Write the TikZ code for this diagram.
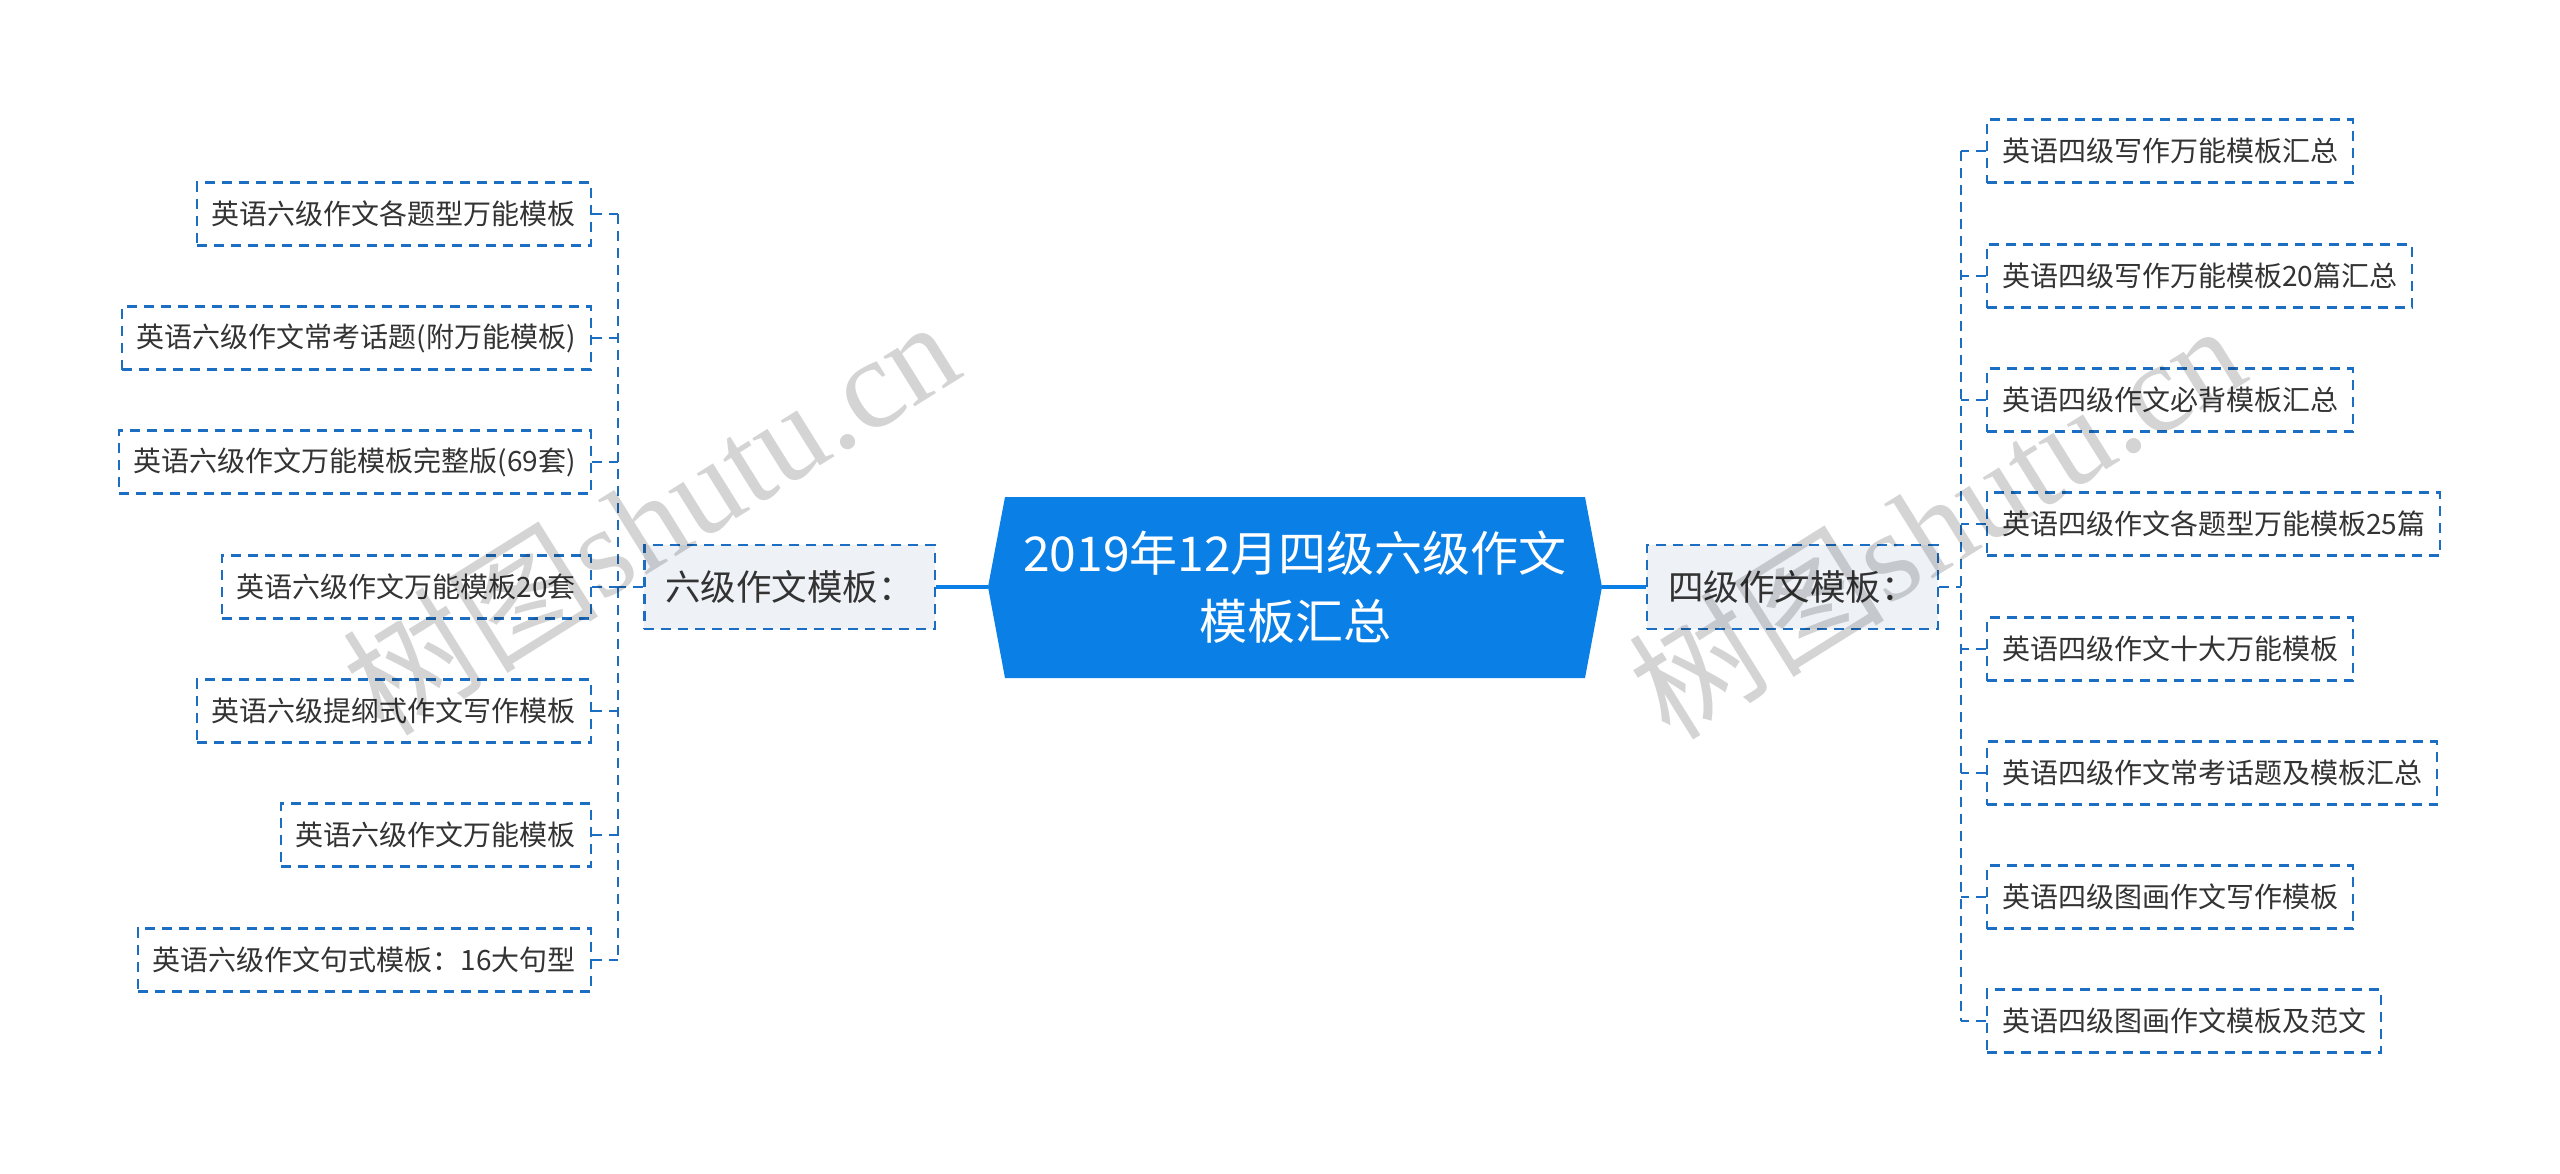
\documentclass[tikz,border=0pt]{standalone}
\usepackage{fontspec}
\setmainfont{Noto Sans CJK SC}
\newfontfamily\wmserif{Liberation Serif}
\newfontfamily\wmcjk{Noto Sans CJK SC}
\definecolor{rootblue}{HTML}{0A7FE6}
\definecolor{dashblue}{HTML}{1C6EC2}
\definecolor{lvfill}{HTML}{EEF1F6}
\definecolor{txtc}{HTML}{333333}
\begin{document}
\begin{tikzpicture}[x=1pt,y=-1pt,
  leaf/.style={draw=dashblue, line width=2.2pt, dash pattern=on 10pt off 7pt, fill=white,
    inner xsep=15pt, inner ysep=0pt, minimum height=63pt,
    font=\fontsize{28pt}{34pt}\selectfont, text=txtc},
  lvone/.style={leaf, fill=lvfill, inner xsep=21pt, minimum height=84pt,
    font=\fontsize{35.5pt}{42pt}\selectfont},
  dconn/.style={draw=dashblue, line width=2.2pt, dash pattern=on 10pt off 7pt},
  sconn/.style={draw=rootblue, line width=3.5pt},
  rootlabel/.style={font=\fontsize{48pt}{68pt}\selectfont, text=white, align=center},
  wmark/.style={rotate=32, text=black, opacity=0.17, font=\fontsize{128pt}{130pt}\selectfont}
]
\useasboundingbox (0,0) rectangle (2560,1173);

% root
\coordinate (rootW) at (988,587);
\coordinate (rootE) at (1602,587);
\fill[rootblue] (rootW) -- (1005,497) -- (1585,497) -- (rootE) -- (1585,678) -- (1005,678) -- cycle;
\node[rootlabel] (root) at (1295,587) {2019年12月四级六级作文\\模板汇总};

% level one
\node[lvone, anchor=east] (sixL) at (936,587) {六级作文模板：};
\node[lvone, anchor=west] (fourR) at (1646,587) {四级作文模板：};
\draw[sconn] (sixL.east) -- (rootW);
\draw[sconn] (rootE) -- (fourR.west);

% left leaves
\node[leaf, anchor=east] (L1) at (592,214) {英语六级作文各题型万能模板};
\node[leaf, anchor=east] (L2) at (592,338) {英语六级作文常考话题(附万能模板)};
\node[leaf, anchor=east] (L3) at (592,462) {英语六级作文万能模板完整版(69套)};
\node[leaf, anchor=east] (L4) at (592,587) {英语六级作文万能模板20套};
\node[leaf, anchor=east] (L5) at (592,711) {英语六级提纲式作文写作模板};
\node[leaf, anchor=east] (L6) at (592,835) {英语六级作文万能模板};
\node[leaf, anchor=east] (L7) at (592,960) {英语六级作文句式模板：16大句型};

% right leaves
\node[leaf, anchor=west] (R1) at (1986,151) {英语四级写作万能模板汇总};
\node[leaf, anchor=west] (R2) at (1986,276) {英语四级写作万能模板20篇汇总};
\node[leaf, anchor=west] (R3) at (1986,400) {英语四级作文必背模板汇总};
\node[leaf, anchor=west] (R4) at (1986,524) {英语四级作文各题型万能模板25篇};
\node[leaf, anchor=west] (R5) at (1986,649) {英语四级作文十大万能模板};
\node[leaf, anchor=west] (R6) at (1986,773) {英语四级作文常考话题及模板汇总};
\node[leaf, anchor=west] (R7) at (1986,897) {英语四级图画作文写作模板};
\node[leaf, anchor=west] (R8) at (1986,1021) {英语四级图画作文模板及范文};

% trunks
\coordinate (tL) at (618,587);
\coordinate (tR) at (1961,587);
\draw[dconn] (tL |- L1.east) -- (tL |- L7.east);
\draw[dconn] (tR |- R1.west) -- (tR |- R8.west);
\draw[dconn] (sixL.west) -- (tL);
\draw[dconn] (fourR.east) -- (tR);
\foreach \i in {1,...,7} {\draw[dconn] (L\i.east) -- (tL |- L\i.east);}
\foreach \i in {1,...,8} {\draw[dconn] (R\i.west) -- (tR |- R\i.west);}

% watermarks
\node[wmark] (wm1) at (650,515) {{\wmcjk 树图}{\wmserif shutu.cn}};
\node[wmark] (wm2) at (1936,519) {{\wmcjk 树图}{\wmserif shutu.cn}};
\end{tikzpicture}
\end{document}
